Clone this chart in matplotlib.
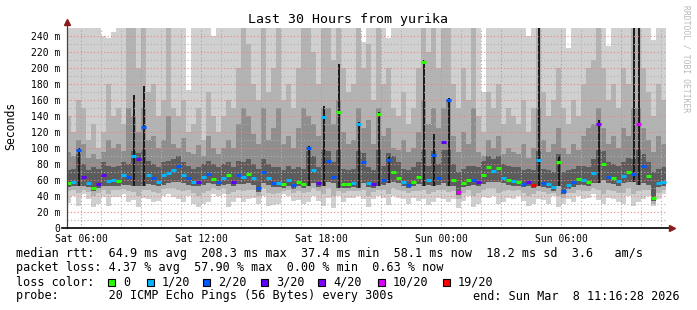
import matplotlib
matplotlib.use('Agg')
import matplotlib.pyplot as plt
import matplotlib.dates as mdates
from matplotlib.patches import Rectangle
import numpy as np
import pandas as pd

W, H = 697, 310
mono = 'DejaVu Sans Mono'

# 15 minute steps over the last 30 hours
times = pd.date_range('2026-03-07 05:15', periods=120, freq='15min')
end_time = pd.Timestamp('2026-03-08 11:16:28')
start_time = end_time - pd.Timedelta(hours=30)

median = [56, 57, 97, 64, 56, 50, 55, 66, 59, 60,
          59, 66, 64, 90, 86, 126, 66, 62, 57, 66,
          69, 73, 77, 66, 62, 58, 58, 64, 68, 61,
          58, 63, 66, 57, 66, 64, 68, 63, 50, 70,
          62, 56, 56, 55, 60, 54, 58, 55, 100, 72,
          56, 139, 84, 64, 145, 55, 55, 56, 130, 82,
          56, 55, 142, 60, 85, 70, 63, 57, 54, 58,
          64, 208, 60, 91, 62, 108, 160, 60, 45, 56,
          60, 60, 57, 66, 76, 71, 75, 62, 60, 59,
          58, 55, 57, 54, 85, 56, 55, 51, 83, 46,
          54, 57, 61, 60, 57, 69, 130, 80, 64, 62,
          59, 65, 70, 68, 130, 77, 65, 37, 56, 58]

# index into loss_colors
loss = [0, 1, 2, 3, 1, 0, 3, 3, 1, 1,
        0, 1, 2, 1, 3, 2, 1, 2, 1, 1,
        1, 1, 2, 1, 2, 1, 3, 1, 2, 0,
        2, 1, 0, 3, 2, 1, 0, 1, 2, 2,
        1, 2, 1, 0, 1, 2, 0, 0, 2, 1,
        3, 1, 2, 2, 0, 0, 0, 1, 1, 2,
        1, 3, 0, 2, 2, 0, 0, 1, 2, 0,
        0, 0, 1, 2, 2, 3, 2, 0, 5, 0,
        0, 2, 3, 0, 0, 1, 0, 1, 0, 1,
        0, 2, 3, 6, 1, 2, 1, 1, 0, 2,
        1, 2, 0, 1, 0, 1, 4, 0, 2, 0,
        1, 1, 0, 2, 5, 2, 0, 0, 1, 1]

rtt_min = [31, 40, 28, 42, 36, 26, 30, 39, 27, 39,
           39, 42, 33, 35, 26, 38, 36, 33, 34, 40,
           42, 39, 36, 33, 40, 30, 26, 30, 32, 42,
           40, 43, 26, 32, 38, 32, 36, 38, 30, 40,
           28, 29, 30, 42, 40, 34, 35, 30, 32, 40,
           34, 28, 38, 25, 40, 33, 38, 38, 40, 36,
           26, 36, 40, 38, 29, 40, 38, 36, 30, 38,
           34, 36, 29, 32, 38, 36, 32, 36, 25, 34,
           40, 26, 30, 39, 38, 40, 30, 33, 38, 36,
           40, 34, 28, 30, 36, 35, 30, 40, 26, 30,
           36, 32, 40, 36, 38, 42, 35, 30, 38, 36,
           32, 30, 40, 28, 32, 36, 40, 27, 36, 43]

rtt_p10 = [46, 47, 44, 48, 45, 40, 44, 47, 42, 48,
           48, 49, 46, 45, 40, 47, 48, 45, 44, 49,
           50, 50, 48, 46, 48, 44, 40, 44, 46, 50,
           48, 50, 42, 45, 48, 46, 48, 48, 40, 50,
           44, 42, 44, 46, 48, 44, 46, 44, 45, 50,
           46, 42, 50, 40, 46, 44, 46, 46, 46, 48,
           40, 45, 48, 48, 42, 50, 48, 46, 44, 46,
           46, 48, 42, 45, 48, 48, 45, 46, 36, 44,
           48, 40, 44, 48, 50, 50, 44, 46, 48, 46,
           48, 44, 40, 42, 46, 45, 42, 44, 40, 38,
           44, 44, 48, 46, 46, 50, 48, 42, 48, 46,
           44, 44, 50, 42, 46, 48, 48, 30, 44, 48]

rtt_lo = [51, 52, 52, 52, 51, 46, 50, 52, 53, 53,
          53, 54, 54, 52, 53, 52, 55, 54, 52, 54,
          56, 57, 58, 56, 54, 52, 52, 54, 56, 55,
          53, 54, 55, 52, 55, 55, 56, 54, 45, 56,
          54, 51, 51, 50, 53, 49, 52, 50, 52, 56,
          51, 52, 58, 56, 50, 50, 50, 51, 50, 56,
          51, 50, 52, 54, 56, 58, 56, 52, 50, 52,
          55, 52, 54, 52, 54, 56, 52, 52, 41, 51,
          53, 54, 52, 55, 58, 58, 58, 56, 54, 53,
          53, 51, 52, 50, 52, 51, 50, 46, 52, 42,
          49, 51, 54, 54, 52, 56, 56, 60, 56, 55,
          53, 56, 58, 58, 54, 56, 54, 34, 51, 52]

rtt_q3 = [72, 74, 92, 80, 72, 76, 74, 82, 78, 76,
          78, 82, 80, 96, 94, 98, 84, 80, 76, 82,
          84, 86, 90, 82, 78, 74, 76, 80, 84, 80,
          76, 80, 82, 76, 84, 82, 86, 80, 74, 86,
          80, 76, 76, 72, 78, 74, 76, 74, 96, 90,
          76, 98, 96, 82, 98, 74, 72, 74, 96, 94,
          76, 72, 98, 78, 94, 90, 82, 74, 72, 76,
          82, 98, 78, 96, 80, 98, 98, 80, 70, 74,
          78, 78, 76, 84, 90, 86, 90, 80, 78, 76,
          76, 72, 74, 72, 96, 74, 72, 70, 92, 70,
          72, 74, 78, 78, 76, 86, 98, 96, 82, 80,
          78, 82, 88, 86, 98, 92, 82, 70, 74, 76]

rtt_mid = [95, 90, 110, 105, 88, 92, 86, 95, 110, 100,
           105, 96, 150, 140, 120, 150, 110, 115, 100, 110,
           140, 105, 100, 112, 95, 92, 104, 90, 115, 100,
           92, 100, 110, 100, 130, 150, 140, 118, 105, 150,
           110, 125, 150, 105, 115, 100, 125, 150, 140, 130,
           115, 150, 150, 130, 160, 120, 105, 110, 150, 125,
           135, 105, 150, 115, 125, 100, 98, 110, 95, 100,
           120, 160, 130, 150, 125, 150, 160, 115, 95, 120,
           105, 150, 95, 90, 110, 100, 115, 92, 100, 95,
           92, 105, 88, 100, 150, 110, 95, 105, 125, 100,
           92, 105, 98, 115, 125, 130, 150, 125, 105, 115,
           100, 125, 115, 150, 150, 125, 110, 95, 115, 105]

rtt_hi = [140, 120, 160, 150, 110, 130, 100, 120, 180, 140,
          150, 130, 250, 250, 200, 250, 170, 180, 140, 160,
          250, 150, 140, 160, 120, 130, 150, 110, 170, 140,
          120, 140, 160, 150, 200, 250, 230, 180, 160, 250,
          170, 200, 250, 160, 180, 150, 200, 250, 250, 220,
          180, 250, 250, 210, 250, 200, 170, 180, 250, 200,
          230, 160, 250, 180, 200, 150, 140, 170, 130, 150,
          200, 250, 220, 250, 200, 250, 250, 180, 150, 200,
          160, 250, 140, 120, 170, 150, 180, 130, 150, 140,
          130, 160, 120, 150, 250, 170, 140, 160, 200, 150,
          130, 160, 140, 180, 200, 210, 250, 200, 160, 180,
          150, 200, 180, 250, 250, 200, 170, 140, 180, 160]

rtt_max = [250, 250, 250, 250, 250, 250, 250, 240, 238, 245,
           250, 250, 250, 250, 250, 250, 250, 250, 250, 250,
           250, 250, 250, 250, 172, 250, 250, 250, 250, 240,
           250, 250, 250, 250, 250, 250, 250, 250, 250, 250,
           250, 250, 250, 250, 250, 250, 250, 250, 250, 250,
           250, 250, 250, 250, 250, 250, 250, 250, 250, 232,
           250, 250, 250, 250, 238, 250, 250, 250, 250, 250,
           250, 250, 250, 250, 250, 250, 250, 250, 250, 250,
           250, 250, 250, 170, 250, 250, 250, 250, 250, 250,
           250, 250, 240, 250, 250, 250, 250, 250, 250, 250,
           225, 250, 250, 250, 250, 250, 250, 250, 228, 250,
           250, 250, 250, 250, 250, 250, 250, 235, 250, 250]

# narrow black spikes (step index, top in ms)
spike_idx = [2, 13, 15, 48, 51, 54, 58, 62, 64, 71, 73, 76, 94, 98, 106, 113, 114]
spike_top = [100, 166, 178, 103, 152, 205, 132, 145, 90, 210, 118, 162, 250, 90, 135, 250, 250]

loss_colors = ['#26ff00', '#00b8ff', '#0059ff', '#5e00ff', '#7e00ff', '#dd00ff', '#ff0000']
loss_labels = ['0', '1/20', '2/20', '3/20', '4/20', '10/20', '19/20']

y_ticks = list(range(0, 241, 20))
y_labels = ['0'] + ['%d m' % v for v in y_ticks[1:]]
x_ticks = pd.to_datetime(['2026-03-07 06:00', '2026-03-07 12:00', '2026-03-07 18:00',
                          '2026-03-08 00:00', '2026-03-08 06:00'])
x_labels = ['Sat 06:00', 'Sat 12:00', 'Sat 18:00', 'Sun 00:00', 'Sun 06:00']

stats_lines = [
    'median rtt:  64.9 ms avg  208.3 ms max  37.4 ms min  58.1 ms now  18.2 ms sd  3.6   am/s',
    'packet loss: 4.37 % avg  57.90 % max  0.00 % min  0.63 % now',
]
probe_text = 'probe:       20 ICMP Echo Pings (56 Bytes) every 300s'
end_text = 'end: Sun Mar  8 11:16:28 2026'

fig = plt.figure(figsize=(W / 100, H / 100), dpi=100)
fig.patch.set_facecolor('white')
ax = fig.add_axes([66.5 / W, 1 - 228 / H, 600 / W, 200 / H])

x = mdates.date2num(times)
step = 1 / 96
r_min = np.array(rtt_min, dtype=float)
r_p10 = np.array(rtt_p10, dtype=float)
r_lo = np.array(rtt_lo, dtype=float)
r_q3 = np.array(rtt_q3, dtype=float)
r_mid = np.array(rtt_mid, dtype=float)
r_hi = np.array(rtt_hi, dtype=float)
r_max = np.array(rtt_max, dtype=float)

# smoke, light to dark
bar_kw = dict(width=step, align='edge', linewidth=0, antialiased=False, zorder=1)
ax.bar(x, r_max - r_min, bottom=r_min, color='#d0d0d0', **bar_kw)
ax.bar(x, r_hi - r_p10, bottom=r_p10, color='#b3b3b3', **bar_kw)
ax.bar(x, r_mid - r_lo, bottom=r_lo, color='#8e8e8e', **bar_kw)
ax.bar(x, r_q3 - r_lo, bottom=r_lo, color='#5c5c5c', **bar_kw)

sx = x[spike_idx] + step / 2
ax.bar(sx, np.array(spike_top) - r_lo[spike_idx], bottom=r_lo[spike_idx],
       width=step * 0.4, color='#1c1c1c', linewidth=0, antialiased=False, zorder=1.5)

ax.hlines(median, x, x + step, colors=[loss_colors[k] for k in loss],
          linewidth=2.2, zorder=3)

# grid
red = '#f08080'
grey = '#b0b0b0'
for v in range(10, 250, 10):
    ax.axhline(v, color=red if v % 20 == 0 else grey, lw=0.8,
               ls=(0, (1, 2)), zorder=2.5)
for h in pd.date_range(start_time.ceil('h'), end_time, freq='h'):
    ax.axvline(mdates.date2num(h), color=red if h.hour % 3 == 0 else grey,
               lw=0.8, ls=(0, (1, 2)), zorder=2.5)

ax.set_xlim(mdates.date2num(start_time), mdates.date2num(end_time))
ax.set_ylim(0, 250)
for s in ax.spines.values():
    s.set_visible(False)

ax.set_yticks(y_ticks, y_labels, fontsize=7, family=mono)
ax.set_xticks(mdates.date2num(x_ticks), x_labels, fontsize=7, family=mono)
ax.tick_params(length=0)
ax.tick_params(axis='y', pad=4.6)
ax.tick_params(axis='x', pad=4.4)

# axes with arrows
ax.plot([0, 0], [0, 1.025], transform=ax.transAxes, color='#444444', lw=0.9,
        clip_on=False, zorder=4)
ax.plot([-0.008, 1.006], [0, 0], transform=ax.transAxes, color='black', lw=1.2,
        clip_on=False, zorder=4)
ax.plot([0], [1.03], transform=ax.transAxes, marker='^', color='#8b1a1a',
        markersize=4.5, clip_on=False, zorder=5)
ax.plot([1.009], [0], transform=ax.transAxes, marker='>', color='#8b1a1a',
        markersize=4.5, clip_on=False, zorder=5)

fig.text(347.5 / W, 1 - 19.5 / H, 'Last 30 Hours from yurika', ha='center', va='center',
         fontsize=9.5, family=mono)
fig.text(11 / W, 1 - 126 / H, 'Seconds', rotation=90, ha='center', va='center',
         fontsize=8.3, family=mono)
fig.text(686 / W, 1 - 5 / H, 'RRDTOOL / TOBI OETIKER', rotation=270, ha='center', va='top',
         fontsize=5.8, family=mono, color='#b8b8b8')

fs = 8.45
for k, line in enumerate(stats_lines):
    fig.text(16 / W, 1 - (254 + 14 * k) / H, line, ha='left', va='center',
             fontsize=fs, family=mono)
fig.text(16 / W, 1 - 282 / H, 'loss color:', ha='left', va='center', fontsize=fs, family=mono)
box_x = [108, 147, 203, 261, 318, 378, 443]
for bx, col, lab in zip(box_x, loss_colors, loss_labels):
    fig.patches.append(Rectangle((bx / W, 1 - 286 / H), 7 / W, 7 / H, transform=fig.transFigure,
                                 facecolor=col, edgecolor='black', linewidth=0.8))
    fig.text((bx + 15) / W, 1 - 282 / H, lab, ha='left', va='center', fontsize=fs, family=mono)
fig.text(16 / W, 1 - 296 / H, probe_text, ha='left', va='center', fontsize=fs, family=mono)
fig.text(680 / W, 1 - 296 / H, end_text, ha='right', va='center', fontsize=fs, family=mono)

fig.savefig('out.png', dpi=100, facecolor='white')
